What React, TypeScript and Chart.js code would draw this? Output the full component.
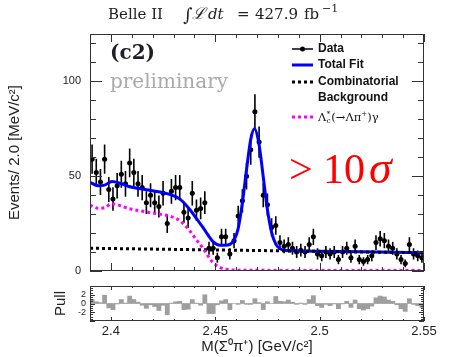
import React, { useEffect, useRef } from 'react';
import { Chart, registerables } from 'chart.js';

Chart.register(...registerables);

// ---------- data ----------
const X_MIN = 2.39;
const X_MAX = 2.55;
const BIN_WIDTH = 0.002;

const massTicks = [2.4, 2.45, 2.5, 2.55];
const countTicks = [0, 50, 100];
const pullTicks = [-2, 0, 2];

const eventCounts = [
  59, 52, 47, 59, 43, 38, 45, 51, 46, 57,
  52, 46, 44, 36, 40, 36, 34, 41, 25, 42,
  44, 44, 31, 28, 41, 32, 33, 36, 12, 12,
  7, 18, 18, 9, 16, 29, 37, 50, 64, 84,
  68, 40, 35, 23, 24, 15, 13, 14, 12, 10,
  11, 10, 14, 18, 9, 8, 10, 9, 10, 6,
  10, 12, 7, 13, 6, 5, 6, 8, 15, 17,
  16, 13, 12, 9, 6, 4, 14, 9, 8, 7,
];

const pullValues = [
  0.9, 0.4, 0.2, 1.9, -1.0, -1.4, -0.1, 0.9, 0.1, 1.7,
  0.9, 0.3, -0.4, -1.1, -0.3, -0.7, -1.6, -0.4, -2.6, 0.1,
  0.4, 0.5, -1.4, -1.3, 0.9, 0.1, -0.4, 2.0, -2.3, -2.3,
  -0.3, 0.6, 0.9, -1.4, 0.0, -0.2, 0.7, -0.2, -0.2, 1.1,
  0.2, -1.4, 0.4, 0.0, 1.6, 0.5, 0.4, 0.8, 0.3, -0.2,
  0.1, -0.2, 0.9, 1.8, -0.5, -0.9, -0.2, -0.5, -0.1, -1.2,
  -0.1, 0.5, -0.9, 0.8, -1.2, -1.5, -1.2, -0.6, 1.3, 1.7,
  1.5, 0.8, 0.5, -0.3, -1.2, -1.8, 1.1, -0.2, -0.5, -0.9,
];

const totalFitMass = [
  2.39, 2.3938, 2.397, 2.4005, 2.4044, 2.4082, 2.4178, 2.4288, 2.4331, 2.4379,
  2.4413, 2.4441, 2.4465, 2.4489, 2.4523, 2.456, 2.459, 2.461, 2.463, 2.465,
  2.467, 2.4688, 2.471, 2.473, 2.475, 2.477, 2.479, 2.481, 2.483, 2.49,
  2.52, 2.55,
];
const totalFitCounts = [
  46.8, 45.0, 45.3, 47.2, 46.3, 44.7, 42.7, 40.2, 37.9, 32.3,
  27.2, 23.0, 19.0, 15.5, 13.6, 13.7, 16.3, 22.5, 36.0, 53.5,
  69.4, 75.0, 66.6, 49.6, 32.3, 20.4, 14.2, 11.8, 10.9, 10.6,
  10.1, 9.6,
];

const combMass = [2.39, 2.47, 2.55];
const combCounts = [12.0, 10.8, 9.6];

const lcMass = [
  2.39, 2.3938, 2.397, 2.4005, 2.4044, 2.4082, 2.4178, 2.4288, 2.4331, 2.4379,
  2.4413, 2.4441, 2.4465, 2.4489, 2.4523, 2.4561, 2.462, 2.5, 2.55,
];
const lcCounts = [
  34.8, 33.1, 33.4, 35.5, 34.5, 33.0, 31.0, 28.7, 26.5, 21.0,
  16.0, 12.0, 8.0, 4.5, 1.8, 0.8, 0.4, 0.3, 0.3,
];

const binCenters = eventCounts.map((_, i) => X_MIN + BIN_WIDTH * (i + 0.5));

// ---------- styling ----------
const SANS = '"Liberation Sans", Arial, sans-serif';
const SERIF = '"DejaVu Serif", serif';
const TSERIF = '"Liberation Serif", "Times New Roman", serif';

const framePlugin = {
  id: 'frameTicks',
  afterDatasetsDraw(chart: any, _a: any, opts: any) {
    if (!opts || !opts.enabled) return;
    const { ctx, chartArea: a, scales } = chart;
    const xs = scales.x;
    const ys = scales.y;
    ctx.save();
    ctx.strokeStyle = '#333';
    ctx.lineWidth = 1;
    ctx.strokeRect(a.left + 0.5, a.top + 0.5, a.right - a.left - 1, a.bottom - a.top - 1);
    const loop = (min: number, max: number, minor: number, major: number, cb: (v: number, m: boolean) => void) => {
      const k0 = Math.ceil(min / minor - 1e-6);
      const k1 = Math.floor(max / minor + 1e-6);
      for (let k = k0; k <= k1; k++) {
        const v = k * minor;
        const r = v / major;
        cb(v, Math.abs(r - Math.round(r)) < 1e-6);
      }
    };
    ctx.beginPath();
    loop(xs.min, xs.max, opts.xMinor, opts.xMajor, (v, maj) => {
      const px = Math.round(xs.getPixelForValue(v)) + 0.5;
      const len = maj ? opts.xLen[0] : opts.xLen[1];
      ctx.moveTo(px, a.bottom);
      ctx.lineTo(px, a.bottom - len);
      ctx.moveTo(px, a.top);
      ctx.lineTo(px, a.top + len);
    });
    loop(ys.min, ys.max, opts.yMinor, opts.yMajor, (v, maj) => {
      const py = Math.round(ys.getPixelForValue(v)) + 0.5;
      const len = maj ? opts.yLen[0] : opts.yLen[1];
      ctx.moveTo(a.left, py);
      ctx.lineTo(a.left + len, py);
      ctx.moveTo(a.right, py);
      ctx.lineTo(a.right - len, py);
    });
    ctx.stroke();
    ctx.restore();
  },
};

const errorBarPlugin = {
  id: 'errorBars',
  beforeDatasetsDraw(chart: any) {
    const { ctx, chartArea: a, scales } = chart;
    const x = scales.x;
    const y = scales.y;
    ctx.save();
    ctx.beginPath();
    ctx.rect(a.left, a.top, a.right - a.left, a.bottom - a.top);
    ctx.clip();
    ctx.strokeStyle = '#000';
    ctx.lineWidth = 1.6;
    ctx.beginPath();
    eventCounts.forEach((n, i) => {
      const c = binCenters[i];
      const e = Math.sqrt(n);
      const px = x.getPixelForValue(c);
      ctx.moveTo(px, y.getPixelForValue(n - e));
      ctx.lineTo(px, y.getPixelForValue(n + e));
      const py = y.getPixelForValue(n);
      ctx.moveTo(x.getPixelForValue(c - BIN_WIDTH / 2), py);
      ctx.lineTo(x.getPixelForValue(c + BIN_WIDTH / 2), py);
    });
    ctx.stroke();
    ctx.restore();
  },
};

const annotationPlugin = {
  id: 'annotations',
  afterDraw(chart: any) {
    const ctx = chart.ctx as CanvasRenderingContext2D;
    ctx.save();
    ctx.textAlign = 'left';
    ctx.textBaseline = 'alphabetic';
    // title
    ctx.fillStyle = '#222';
    ctx.font = `15px ${SERIF}`;
    ctx.fillText('Belle II', 108, 19);
    ctx.font = `18px ${SERIF}`;
    ctx.fillText('∫', 183, 21);
    ctx.font = `italic 16px ${SERIF}`;
    ctx.fillText('ℒ', 192, 19);
    ctx.font = `italic 15px ${SERIF}`;
    ctx.fillText('dt', 208, 19);
    ctx.font = `15px ${SERIF}`;
    ctx.fillText('=', 237, 19);
    ctx.fillText('427.9', 255, 19);
    ctx.fillText('fb', 304, 19);
    ctx.font = `11px ${SERIF}`;
    ctx.fillText('−1', 322, 12);
    // panel label
    ctx.fillStyle = '#1e1e28';
    ctx.font = `bold 20px ${SERIF}`;
    ctx.fillText('(c2)', 110, 59);
    ctx.fillStyle = '#aaaaaa';
    ctx.font = `20px ${SERIF}`;
    ctx.fillText('preliminary', 110, 88);
    // significance
    ctx.fillStyle = '#ff0000';
    ctx.font = `42px ${TSERIF}`;
    ctx.fillText('>', 289, 183);
    ctx.fillText('10', 323, 183);
    ctx.font = `italic 46px ${TSERIF}`;
    ctx.fillText('σ', 369, 183);

    // legend
    const x0 = 292;
    const x1 = 313;
    ctx.lineCap = 'butt';
    ctx.strokeStyle = '#000';
    ctx.lineWidth = 1.5;
    ctx.beginPath();
    ctx.moveTo(x0, 49);
    ctx.lineTo(x1, 49);
    ctx.stroke();
    ctx.fillStyle = '#000';
    ctx.beginPath();
    ctx.arc((x0 + x1) / 2, 49, 2.5, 0, Math.PI * 2);
    ctx.fill();

    ctx.strokeStyle = '#0000ff';
    ctx.lineWidth = 3;
    ctx.beginPath();
    ctx.moveTo(x0, 65);
    ctx.lineTo(x1, 65);
    ctx.stroke();

    ctx.setLineDash([3, 3]);
    ctx.strokeStyle = '#000';
    ctx.beginPath();
    ctx.moveTo(x0, 82);
    ctx.lineTo(x1, 82);
    ctx.stroke();
    ctx.strokeStyle = '#ff00ff';
    ctx.beginPath();
    ctx.moveTo(x0, 117);
    ctx.lineTo(x1, 117);
    ctx.stroke();
    ctx.setLineDash([]);

    ctx.fillStyle = '#111';
    ctx.font = `bold 12px ${SANS}`;
    ctx.textBaseline = 'middle';
    ctx.fillText('Data', 318, 49);
    ctx.fillText('Total Fit', 318, 65);
    ctx.fillText('Combinatorial', 318, 82);
    ctx.fillText('Background', 318, 98);

    ctx.textBaseline = 'alphabetic';
    let cx = 318;
    const by = 121;
    ctx.font = `11.5px ${SERIF}`;
    ctx.fillText('Λ', cx, by);
    cx += ctx.measureText('Λ').width;
    ctx.font = `7px ${SERIF}`;
    ctx.fillText('*', cx + 0.5, by - 5);
    ctx.fillText('c', cx + 0.5, by + 2);
    cx += 5;
    ctx.font = `11.5px ${SERIF}`;
    ctx.fillText('(→Λπ', cx, by);
    cx += ctx.measureText('(→Λπ').width;
    ctx.font = `7px ${SERIF}`;
    ctx.fillText('+', cx, by - 5);
    cx += ctx.measureText('+').width;
    ctx.font = `11.5px ${SERIF}`;
    ctx.fillText(')γ', cx, by);

    ctx.restore();
  },
};

const pts = (xs: number[], ys: number[]) => xs.map((x, i) => ({ x, y: ys[i] }));

const setTicks = (values: number[]) => (s: any) => {
  s.ticks = values.map((v) => ({ value: v }));
};
const fixWidth = (w: number) => (s: any) => {
  s.width = w;
  s.paddingTop = 0;
  s.paddingBottom = 0;
};

export default function App() {
  const mainRef = useRef<HTMLCanvasElement>(null);
  const pullRef = useRef<HTMLCanvasElement>(null);

  useEffect(() => {
    const main = new Chart(mainRef.current as HTMLCanvasElement, {
      type: 'line',
      data: {
        datasets: [
          {
            label: 'lc',
            data: pts(lcMass, lcCounts),
            borderColor: '#ff00ff',
            borderWidth: 3,
            borderDash: [3, 3],
            pointRadius: 0,
            cubicInterpolationMode: 'monotone',
            fill: false,
          },
          {
            label: 'comb',
            data: pts(combMass, combCounts),
            borderColor: '#000000',
            borderWidth: 3,
            borderDash: [3, 3],
            pointRadius: 0,
            fill: false,
          },
          {
            label: 'total',
            data: pts(totalFitMass, totalFitCounts),
            borderColor: '#0000ff',
            borderWidth: 3,
            pointRadius: 0,
            cubicInterpolationMode: 'monotone',
            fill: false,
          },
          {
            label: 'data',
            data: pts(binCenters, eventCounts),
            showLine: false,
            pointRadius: 2.5,
            pointBackgroundColor: '#000',
            pointBorderWidth: 0,
            borderColor: '#000',
          },
        ],
      } as any,
      options: {
        responsive: false,
        animation: false,
        devicePixelRatio: 1,
        layout: { autoPadding: false, padding: { left: 0, right: 30, top: 34, bottom: 9 } },
        plugins: {
          legend: { display: false },
          tooltip: { enabled: false },
          frameTicks: {
            enabled: true,
            xMinor: 0.01,
            xMajor: 0.05,
            xLen: [8, 4],
            yMinor: 10,
            yMajor: 50,
            yLen: [12, 6],
          },
        } as any,
        scales: {
          x: { type: 'linear', min: X_MIN, max: X_MAX, display: false },
          y: {
            type: 'linear',
            min: 0,
            max: 125,
            afterBuildTicks: setTicks(countTicks),
            afterFit: fixWidth(90),
            grid: { display: false, drawTicks: false },
            border: { display: false },
            ticks: {
              autoSkip: false,
              padding: 9,
              color: '#222',
              font: { family: SANS, size: 11 },
            },
            title: {
              display: true,
              text: 'Events/ 2.0 [MeV/c²]',
              color: '#222',
              font: { family: SANS, size: 15 },
              padding: { top: 6, bottom: 0 },
            },
          },
        },
      } as any,
      plugins: [errorBarPlugin, framePlugin, annotationPlugin],
    });

    const pull = new Chart(pullRef.current as HTMLCanvasElement, {
      type: 'bar',
      data: {
        datasets: [
          {
            data: pts(binCenters, pullValues),
            backgroundColor: 'rgb(158,158,158)',
            borderWidth: 0,
            barPercentage: 1,
            categoryPercentage: 1,
          },
        ],
      } as any,
      options: {
        responsive: false,
        animation: false,
        devicePixelRatio: 1,
        layout: { autoPadding: false, padding: { left: 0, right: 30, top: 6, bottom: 0 } },
        plugins: {
          legend: { display: false },
          tooltip: { enabled: false },
          frameTicks: {
            enabled: true,
            xMinor: 0.01,
            xMajor: 0.05,
            xLen: [4, 2],
            yMinor: 0.5,
            yMajor: 2,
            yLen: [5, 3],
          },
        } as any,
        scales: {
          x: {
            type: 'linear',
            min: X_MIN,
            max: X_MAX,
            offset: false,
            afterBuildTicks: setTicks(massTicks),
            afterFit: (s: any) => {
              s.height = 36;
              s.paddingLeft = 0;
              s.paddingRight = 0;
            },
            grid: { display: false, drawTicks: false },
            border: { display: false },
            ticks: {
              autoSkip: false,
              maxRotation: 0,
              padding: 3,
              color: '#222',
              font: { family: SANS, size: 13 },
              callback: (v: any) => String(Number(Number(v).toFixed(2))),
            },
            title: {
              display: true,
              text: 'M(Σ⁰π⁺) [GeV/c²]',
              color: '#222',
              font: { family: SANS, size: 15 },
              padding: { top: 0, bottom: 1 },
            },
          },
          y: {
            type: 'linear',
            min: -4,
            max: 4,
            afterBuildTicks: setTicks(pullTicks),
            afterFit: fixWidth(90),
            grid: { display: false, drawTicks: false },
            border: { display: false },
            ticks: {
              autoSkip: false,
              padding: 4,
              color: '#222',
              font: { family: SANS, size: 9 },
            },
            title: {
              display: true,
              text: 'Pull',
              color: '#222',
              font: { family: SANS, size: 15 },
              padding: { top: 52, bottom: 0 },
            },
          },
        },
      } as any,
      plugins: [framePlugin],
    });

    return () => {
      main.destroy();
      pull.destroy();
    };
  }, []);

  return (
    <div style={{ position: 'fixed', left: 0, top: 0, width: 454, height: 357, background: '#fff' }}>
      <canvas
        ref={mainRef}
        width={454}
        height={280}
        style={{ position: 'absolute', left: 0, top: 0, width: 454, height: 280 }}
      />
      <canvas
        ref={pullRef}
        width={454}
        height={77}
        style={{ position: 'absolute', left: 0, top: 280, width: 454, height: 77 }}
      />
    </div>
  );
}
